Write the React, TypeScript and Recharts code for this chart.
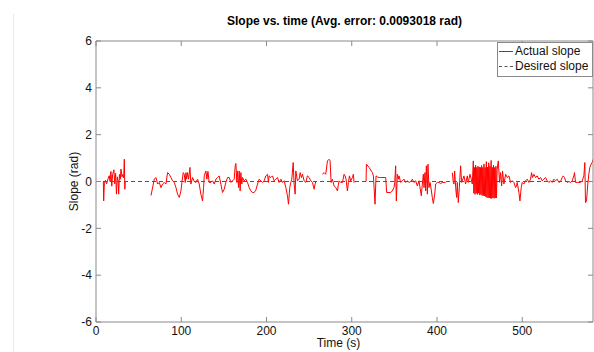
import { LineChart, Line, XAxis, YAxis } from 'recharts';

// actual slope trace, null = sample missing (line breaks)
const actualTime = [
  8.6, 9.0, 9.8, 11, 12.5, 14, 15.5, 16.5, 17.5, 18.5, 19.5, 21, 22, 23, 24, 25, 26, 26.6, 27.5, 28.5, 29.3, 30.5, 31.5, 32.5, 33.2, 33.8, 34.3,
  35,
  64.5, 68.4, 70.3, 72.3, 74.2, 76.2, 78.1, 80.1, 82.0, 84.0, 85.9, 87.9, 89.8, 91.8, 93.8, 95.7, 97.7, 99.6, 100.8, 102.3, 103.5, 104.7, 105.5, 106.3, 107.4, 108.6,
  110.2, 111.3, 113.3, 115.2, 117.2, 119.1, 121.1, 123.0, 125.0, 126.2, 127.0, 128.9, 130.1, 131.3, 132.8, 134.8, 136.7, 138.7, 140.6, 142.6, 144.5, 146.5, 148.4,
  150.4, 152.3, 154.3, 156.3, 158.2, 160.2, 162.1, 163.3, 164.1, 165.2, 166.0, 167.2, 168.0, 169.1, 169.9, 171.1, 171.9, 173.8, 175.8, 177.7, 179.7, 181.6, 183.6,
  185.5, 187.5, 189.5, 191.4, 193.4, 195.3, 197.3, 199.2, 201.2, 202.3, 203.1, 205.1, 207.0, 209.0, 210.9, 212.9, 214.8, 216.8, 218.8, 220.7, 222.7, 224.6, 225.8,
  227.3, 228.5, 229.7, 231.3, 232.4, 233.6, 234.4, 236.3, 238.3, 239.5, 241.0, 242.2, 244.1, 246.1, 248.0, 250.0, 252.0, 253.9, 255.9, 257.0, 257.8,
  260,
  265.6, 267.6, 269.5, 271.5, 273.4, 274.6, 275.8, 277.3, 279.3, 281.3, 283.2, 284.4, 285.2, 287.1, 289.1, 291.0, 292.2, 293.3, 294.9, 296.1, 297.3, 298.8,
  300.8, 301.9, 302.7, 303.5,
  306,
  316.8, 317.2, 320.3, 324.2, 325.4, 326.2, 327.3, 328.5, 330.1, 332.0, 334.0, 337.9, 339.8, 341.0, 342.6, 345.7, 347.6, 349.6, 350.4, 351.5, 352.3, 353.5,
  354.7, 355.5, 357.4, 359.4, 361.3, 363.3, 365.2, 367.2, 369.1, 371.1, 373.0, 375.0, 376.9, 378.9, 380.1, 381.6, 382.8, 384.0, 384.8, 385.9, 386.7, 387.5,
  388.7, 389.4, 390.6, 391.8, 392.6, 394.5, 395.7, 397.3, 398.4, 400.4, 402.3, 404.3, 406.2, 408.2, 410.1,
  412,
  418.0, 419.1, 419.9, 420.7, 421.9, 423.0, 423.8, 425.0, 426.2, 427.7, 428.9, 429.7, 431.6, 433.6, 435.5, 436.7, 438.7, 440.2, 441.4, 442.6,
  443.2, 443.9, 444.6, 445.3, 446.0, 446.7, 447.4, 448.1, 448.8, 449.5, 450.2, 450.9, 451.6, 452.3, 453.0, 453.7, 454.4, 455.1, 455.8, 456.5,
  457.2, 457.9, 458.6, 459.3, 460.0, 460.7, 461.4, 462.1, 462.8, 463.5, 464.2, 464.9, 465.6, 466.3, 467.0, 467.7, 468.4, 469.1, 469.8, 470.5,
  471.9, 473.4, 474.6, 475.8, 476.9, 478.5, 480.5, 482.4, 484.4, 486.3, 488.3, 490.2, 492.2, 493.3, 494.1, 496.1, 497.3, 498.8, 500.0, 501.9,
  503.9, 505.8, 507.8, 509.8, 510.9, 512.1, 513.7, 515.6, 517.6, 519.5, 521.5, 523.4, 525.4, 527.3, 529.3, 531.2, 533.2, 535.1, 537.1, 539.0,
  541.0, 543.0, 544.9, 546.9, 548.0, 549.6, 550.8, 552.7, 554.7, 556.6, 558.6, 560.5, 561.3, 562.5, 564.4, 566.4, 568.4, 570.3, 572.3, 573.4,
  574.2, 575.4, 576.9, 578.1, 579.3, 580.8, 582.0, 583.2,
];
const actualSlope = [
  0, -0.83, -0.1, 0.05, -0.1, 0.1, 0.25, 0, 0.43, -0.2, 0.3, 0.5, -0.1, 0.35, -0.54, 0.2, 0, -0.54, 0.3, 0.1, 0.53, 0.2, 0.3, 0.15, 0.95, -0.33, 0,
  null,
  -0.6, 0.1, 0.17, -0.11, -0.04, -0.26, -0.11, -0.04, -0.11, 0.38, 0.31, 0.17, 0.03, -0.04, -0.26, -0.54, -0.68, -0.4, -0.04, 0.38, 0.31, -0.04, 0.38, 0.1, 0.38, 0.1,
  0.6, -0.11, 0.17, 0, -0.04, 0.1, -0.11, -0.54, -0.83, -0.26, 0.24, 0.45, 0.1, 0.43, -0.04, -0.04, 0.03, -0.11, 0.1, 0.17, 0.24, -0.11, -0.47,
  -0.33, -0.04, 0.17, 0.17, -0.04, 0.03, 0.1, 0.67, 0.77, -0.04, 0.45, -0.26, 0.45, -0.4, 0.38, -0.11, 0.17, 0.03, 0.1, -0.04, -0.26, -0.4, -0.47,
  -0.47, -0.37, -0.11, 0.1, 0.03, -0.04, 0.03, 0.24, 0.31, -0.04, 0.24, 0.17, 0.24, 0.03, 0.1, 0.17, -0.04, 0.1, -0.04, 0.03, -0.26, -0.61, -0.97,
  -0.26, -0.04, 0.1, 0.81, -0.11, -0.54, 0.45, 0.03, 0.1, 0.38, 0.17, 0.31, 0.03, -0.04, 0.24, 0.17, 0.03, -0.04, -0.33, -0.11, 0,
  null,
  0.31, 0.38, 0.31, 0.88, 0.95, 0.88, -0.04, 0.1, -0.19, -0.26, -0.4, -0.11, 0.03, -0.04, -0.04, 0.31, 0.24, 0.1, -0.4, -0.04, 0.24, 0.03,
  0.17, 0.31, -0.04, 0,
  null,
  0, 0.74, 0.6, 0.38, 0.24, -0.26, -0.97, 0.24, 0.2, 0.17, 0.17, 0.17, 0.17, -0.47, -0.47, -0.47, -0.4, -0.26, -0.04, 0.67, -0.83, 0.31,
  0.1, 0.24, -0.04, 0.03, 0.1, -0.04, 0.03, -0.04, 0, 0.1, -0.04, 0.03, -0.19, 0.03, -0.26, -0.61, -0.11, 0.31, -0.26, 0.38, -0.4, 0.67,
  -0.54, 0.74, -0.26, -0.04, -0.19, -0.68, -0.94, -0.54, -0.11, -0.04, -0.04, -0.09, -0.04, -0.04, -0.04,
  null,
  0.38, -0.04, -0.11, 0.45, -0.26, -0.68, -0.04, -0.9, -0.26, 0.67, -0.04, 0.03, 0.24, -0.11, 0.24, -0.04, 0.31, 0.1, -0.11, 0.88,
  -0.5, 0.6, -0.55, 0.7, -0.5, 0.6, -0.55, 0.65, -0.5, 0.62, -0.58, 0.6, -0.55, 0.68, -0.6, 0.6, -0.6, 0.75, -0.62, 0.6,
  -0.65, 0.85, -0.68, 0.62, -0.7, 0.8, -0.7, 0.65, -0.72, 0.9, -0.72, 0.6, -0.7, 0.7, -0.72, 0.6, -0.7, 0.65, -0.7, 0.5,
  0.88, -0.04, 0.38, -0.19, 0.45, -0.11, 0.31, 0.17, 0.24, -0.04, 0.03, -0.04, -0.26, -0.19, -0.04, -0.47, -0.83, -0.26, -0.04, -0.11,
  0.03, 0.1, -0.04, 0.1, 0.38, 0.17, 0.31, 0.17, 0.24, 0.1, 0.17, 0.03, 0.1, 0.17, 0.03, -0.04, 0.03, -0.04, 0.1, 0.03,
  0.1, -0.04, 0, 0.17, 0.24, 0.17, 0.03, -0.04, 0, -0.04, 0.03, 0.24, 0.38, -0.04, -0.04, -0.04, -0.04, 0.03, 0.24, 0.81,
  -0.9, -0.83, -0.11, 0.31, 0.6, 0.74, 0.81, 0.95,
];

const desiredTime = [0, 583];
const desiredSlope = [0, 0];

const xTicks = [0, 100, 200, 300, 400, 500];
const yTicks = [-6, -4, -2, 0, 2, 4, 6];

const actualData = actualTime.map((t, i) => ({ t, v: actualSlope[i] }));
const desiredData = desiredTime.map((t, i) => ({ t, v: desiredSlope[i] }));

const FONT = '"Liberation Sans", Arial, Helvetica, sans-serif';
const AXIS = '#8a8a8a';
const TXT = '#111';

// MATLAB style: tick marks point into the plot box
const BottomTick = ({ x, y, payload }: any) => (
  <g>
    <line x1={x} x2={x} y1={y - 4} y2={y - 9} stroke={AXIS} />
    <text x={x} y={y} dy="0.71em" textAnchor="middle" fill={TXT} fontSize={12} fontFamily={FONT}>{payload.value}</text>
  </g>
);
const LeftTick = ({ x, y, payload }: any) => (
  <g>
    <line x1={x + 4} x2={x + 9} y1={y} y2={y} stroke={AXIS} />
    <text x={x} y={y} dy="0.355em" textAnchor="end" fill={TXT} fontSize={12} fontFamily={FONT}>{payload.value}</text>
  </g>
);
const TopTick = ({ x, y }: any) => <line x1={x} x2={x} y1={y} y2={y + 5} stroke={AXIS} />;
const RightTick = ({ x, y }: any) => <line x1={x} x2={x - 5} y1={y} y2={y} stroke={AXIS} />;

export default function App() {
  return (
    <div style={{ position: 'absolute', left: 0, top: 0, width: 594, height: 352, background: '#fff', fontFamily: FONT }}>
      <div style={{ position: 'absolute', left: 13, top: 14, width: 1, height: 338, background: '#d6f1f3' }} />
      <LineChart width={594} height={352} margin={{ top: 40, right: 0, bottom: 0, left: 0 }}>
        <XAxis
          xAxisId="b"
          type="number"
          dataKey="t"
          domain={[0, 583]}
          allowDataOverflow
          ticks={xTicks}
          height={30}
          stroke={AXIS}
          tickLine={false}
          tickSize={0}
          tickMargin={4}
          tick={BottomTick}
          label={{ value: 'Time (s)', position: 'insideBottom', offset: 5, dx: -6, fill: TXT, fontSize: 12, fontFamily: FONT }}
        />
        <XAxis
          xAxisId="t"
          orientation="top"
          type="number"
          dataKey="t"
          domain={[0, 583]}
          allowDataOverflow
          ticks={xTicks}
          height={1}
          stroke={AXIS}
          tickLine={false}
          tickSize={0}
          tickMargin={0}
          tick={TopTick}
          label={{ value: 'Slope vs. time (Avg. error: 0.0093018 rad)', position: 'top', offset: 15, fill: '#000', fontSize: 12, fontWeight: 'bold', fontFamily: FONT }}
        />
        <YAxis
          yAxisId="l"
          type="number"
          domain={[-6, 6]}
          allowDataOverflow
          ticks={yTicks}
          width={96}
          stroke={AXIS}
          tickLine={false}
          tickSize={0}
          tickMargin={4}
          tick={LeftTick}
          label={{ value: 'Slope (rad)', angle: -90, position: 'insideLeft', offset: 74, fill: TXT, fontSize: 12, fontFamily: FONT, style: { textAnchor: 'middle' } }}
        />
        <YAxis
          yAxisId="r"
          orientation="right"
          type="number"
          domain={[-6, 6]}
          allowDataOverflow
          ticks={yTicks}
          width={1}
          stroke={AXIS}
          tickLine={false}
          tickSize={0}
          tickMargin={0}
          tick={RightTick}
        />
        <Line
          xAxisId="b"
          yAxisId="l"
          data={actualData}
          dataKey="v"
          stroke="#ff0000"
          strokeWidth={1}
          dot={false}
          activeDot={false}
          isAnimationActive={false}
        />
        <Line
          xAxisId="b"
          yAxisId="l"
          data={desiredData}
          dataKey="v"
          stroke="#555"
          strokeWidth={1}
          strokeDasharray="4 3"
          dot={false}
          activeDot={false}
          isAnimationActive={false}
        />
        {/* invisible copy so the top/right frame axes get drawn */}
        <Line
          xAxisId="t"
          yAxisId="r"
          data={desiredData}
          dataKey="v"
          stroke="none"
          dot={false}
          activeDot={false}
          legendType="none"
          isAnimationActive={false}
        />
      </LineChart>
      <div
        style={{
          position: 'absolute', left: 497, top: 42, width: 96, height: 35, background: '#fff',
          border: '1px solid #8a8a8a', boxSizing: 'border-box', fontSize: 12, color: TXT, lineHeight: '15px',
        }}
      >
        <div style={{ display: 'flex', alignItems: 'center', marginTop: 1 }}>
          <span style={{ display: 'inline-block', width: 14, height: 0, marginLeft: 1, marginRight: 2, borderTop: '1px solid #ff0000' }} />
          <span>Actual slope</span>
        </div>
        <div style={{ display: 'flex', alignItems: 'center' }}>
          <span style={{ display: 'inline-block', width: 14, height: 0, marginLeft: 1, marginRight: 2, borderTop: '1px dashed #555' }} />
          <span>Desired slope</span>
        </div>
      </div>
    </div>
  );
}
